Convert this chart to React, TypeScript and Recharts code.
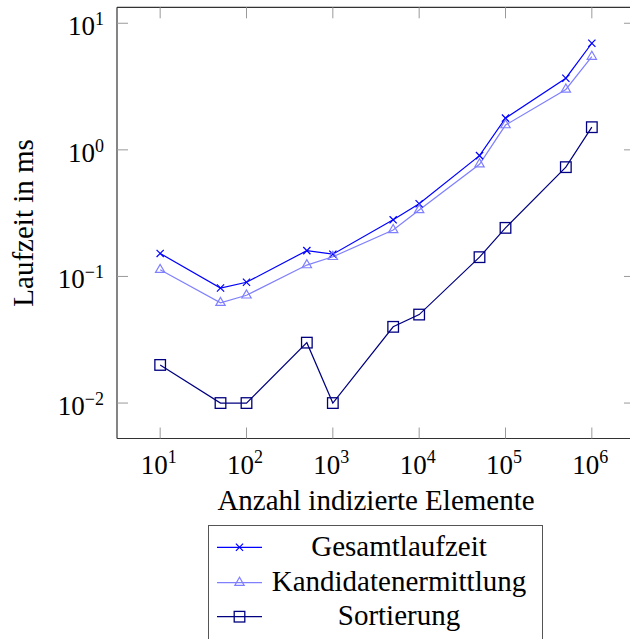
import React from 'react';
import { LineChart, Line, XAxis, YAxis, ReferenceLine, Legend } from 'recharts';

// ---- data ----
const sizes = [10, 50, 100, 500, 1000, 5000, 10000, 50000, 100000, 500000, 1000000];
const gesamtlaufzeit = [0.152, 0.081, 0.09, 0.16, 0.15, 0.28, 0.375, 0.9, 1.78, 3.68, 6.95];
const kandidatenermittlung = [0.113, 0.062, 0.071, 0.123, 0.143, 0.233, 0.335, 0.77, 1.57, 3.0, 5.45];
const sortierung = [0.02, 0.01, 0.01, 0.03, 0.01, 0.04, 0.05, 0.142, 0.242, 0.73, 1.51];
const xTicks = [10, 100, 1000, 10000, 100000, 1000000];
const yTicks = [0.01, 0.1, 1, 10];
const seriesNames = ['Gesamtlaufzeit', 'Kandidatenermittlung', 'Sortierung'];
const xTitle = 'Anzahl indizierte Elemente';
const yTitle = 'Laufzeit in ms';

const data = sizes.map((n, i) => ({
  n,
  g: gesamtlaufzeit[i],
  k: kandidatenermittlung[i],
  s: sortierung[i],
}));

// ---- layout / style ----
const W = 645;
const H = 639;
const PLOT_LEFT = 117;
const PLOT_TOP = 7.3;
const PLOT_RIGHT = 635;
const PLOT_BOTTOM = 438.5;
const X_AXIS_H = 60;
const X_DOMAIN = [Math.pow(10, 0.5), Math.pow(10, 6.5)];
const Y_DOMAIN = [Math.pow(10, -2.28), Math.pow(10, 1.126)];
const FONT = '"Liberation Serif", Tinos, "Times New Roman", Times, "DejaVu Serif", "Noto Serif", serif';
const TICK = '#9a9a9a';
const FRAME = '#333';
const C_G = '#0000ff';
const C_K = '#8080ff';
const C_S = '#000080';
const keys = ['g', 'k', 's'];
const colors = [C_G, C_K, C_S];
const markers = ['cross', 'triangle', 'square'];
const txt = (size: number) => ({ fontFamily: FONT, fontSize: size });

const Marker = ({ cx, cy, type, color }: any) => {
  if (cx == null || cy == null) return null;
  if (type === 'cross') {
    const r = 3.6;
    return (
      <g stroke={color} strokeWidth={1.2} fill="none">
        <line x1={cx - r} y1={cy - r} x2={cx + r} y2={cy + r} />
        <line x1={cx - r} y1={cy + r} x2={cx + r} y2={cy - r} />
      </g>
    );
  }
  if (type === 'triangle') {
    const r = 5.4;
    const hx = r * 0.866;
    return (
      <polygon
        points={`${cx},${cy - r} ${cx - hx},${cy + r / 2} ${cx + hx},${cy + r / 2}`}
        stroke={color}
        strokeWidth={1.2}
        fill="none"
      />
    );
  }
  const h = 5.3;
  return <rect x={cx - h} y={cy - h} width={2 * h} height={2 * h} stroke={color} strokeWidth={1.3} fill="none" />;
};

const expLabel = (v: number) => {
  const e = Math.round(Math.log10(v));
  return e < 0 ? '\u2212' + -e : String(e);
};

const XTick = (props: any) => {
  const { x, payload } = props;
  return (
    <g>
      <line x1={x} x2={x} y1={PLOT_BOTTOM} y2={PLOT_BOTTOM - 11} stroke={TICK} />
      <line x1={x} x2={x} y1={PLOT_TOP} y2={PLOT_TOP + 11} stroke={TICK} />
      <text x={x - 1.5} y={473.5} textAnchor="middle" style={txt(27)} fill="#000">
        10
        <tspan dy={-11} style={txt(18)}>
          {expLabel(payload.value)}
        </tspan>
      </text>
    </g>
  );
};

const YTick = (props: any) => {
  const { y, payload } = props;
  return (
    <g>
      <line x1={PLOT_LEFT} x2={PLOT_LEFT + 11} y1={y} y2={y} stroke={TICK} />
      <line x1={PLOT_RIGHT} x2={PLOT_RIGHT - 11} y1={y} y2={y} stroke={TICK} />
      <text x={104} y={y + 12} textAnchor="end" style={txt(27)} fill="#000">
        10
        <tspan dy={-10} style={txt(18)}>
          {expLabel(payload.value)}
        </tspan>
      </text>
    </g>
  );
};

const XLabel = () => (
  <text x={(PLOT_LEFT + PLOT_RIGHT) / 2} y={510} textAnchor="middle" style={txt(29)} fill="#000">
    {xTitle}
  </text>
);

const YLabel = () => {
  const cy = (PLOT_TOP + PLOT_BOTTOM) / 2;
  return (
    <text x={33} y={cy} transform={`rotate(-90, 33, ${cy})`} textAnchor="middle" style={txt(29)} fill="#000">
      {yTitle}
    </text>
  );
};

const LegendBox = () => {
  const lineYs = [22.3, 57.7, 91.7];
  return (
    <div style={{ width: 335, height: 130, border: '1px solid #555', boxSizing: 'border-box', background: '#fff' }}>
      <svg width={333} height={128} style={{ display: 'block' }}>
        {seriesNames.map((name, i) => (
          <g key={name}>
            <line x1={8} x2={53} y1={lineYs[i] - 1} y2={lineYs[i] - 1} stroke={colors[i]} strokeWidth={1.2} />
            <Marker cx={30.5} cy={lineYs[i] - 1} type={markers[i]} color={colors[i]} />
            <text x={190} y={lineYs[i] + 7.5} textAnchor="middle" style={txt(29)} fill="#000">
              {name}
            </text>
          </g>
        ))}
      </svg>
    </div>
  );
};

export default function App() {
  return (
    <div
      style={{
        position: 'absolute',
        left: 0,
        top: 0,
        width: 630,
        height: 639,
        overflow: 'hidden',
        background: '#fff',
        fontFamily: FONT,
      }}
    >
      <LineChart
        width={W}
        height={H}
        data={data}
        margin={{ top: PLOT_TOP, right: W - PLOT_RIGHT, bottom: H - PLOT_BOTTOM - X_AXIS_H, left: 0 }}
      >
        <XAxis
          dataKey="n"
          type="number"
          scale="log"
          domain={X_DOMAIN}
          allowDataOverflow
          ticks={xTicks}
          interval={0}
          height={X_AXIS_H}
          axisLine={{ stroke: FRAME, strokeWidth: 1.2 }}
          tickLine={false}
          tick={<XTick />}
          label={<XLabel />}
        />
        <YAxis
          type="number"
          scale="log"
          domain={Y_DOMAIN}
          allowDataOverflow
          ticks={yTicks}
          interval={0}
          width={PLOT_LEFT}
          axisLine={{ stroke: FRAME, strokeWidth: 1.2 }}
          tickLine={false}
          tick={<YTick />}
          label={<YLabel />}
        />
        <ReferenceLine y={Y_DOMAIN[1]} stroke={FRAME} strokeWidth={1.2} />
        <ReferenceLine x={X_DOMAIN[1]} stroke={FRAME} strokeWidth={1.2} />
        {keys.map((k, i) => (
          <Line
            key={k}
            dataKey={k}
            name={seriesNames[i]}
            type="linear"
            stroke={colors[i]}
            strokeWidth={1.2}
            isAnimationActive={false}
            dot={(p: any) => <Marker key={`${k}-${p.index}`} cx={p.cx} cy={p.cy} type={markers[i]} color={colors[i]} />}
            activeDot={false}
          />
        ))}
        <Legend
          layout="horizontal"
          verticalAlign="middle"
          align="center"
          wrapperStyle={{ left: 208, top: 525, width: 335, height: 130 }}
          content={<LegendBox />}
        />
      </LineChart>
    </div>
  );
}
